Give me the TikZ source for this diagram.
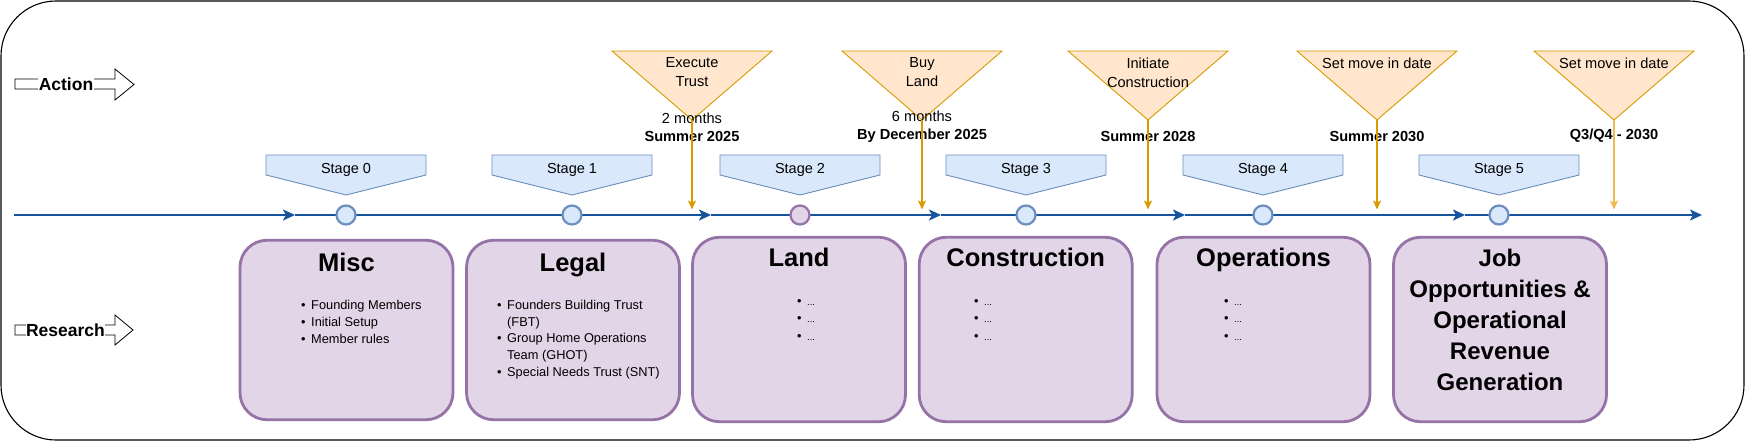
\documentclass[tikz,border=0pt]{standalone}
\usepackage{fontspec}
\setmainfont{Liberation Sans}
\usepackage{xcolor}
\usetikzlibrary{arrows.meta,positioning}

\definecolor{tagfill}{HTML}{DAE8FC}
\definecolor{tagline}{HTML}{6C8EBF}
\definecolor{actfill}{HTML}{FFE6CC}
\definecolor{actline}{HTML}{D79B00}
\definecolor{actlight}{HTML}{EDBB4F}
\definecolor{phasefill}{HTML}{E1D5E7}
\definecolor{phaseline}{HTML}{9673A6}
\definecolor{tlblue}{HTML}{16549E}

\newcommand{\bitem}[1]{\makebox[10pt][l]{\textbullet}#1}
\newcommand{\bcont}[1]{\hspace*{10pt}#1}
\newcommand{\emptyitem}{\bitem{{\fontsize{9.5}{10}\selectfont...}}}

\begin{document}
\begin{tikzpicture}[x=1pt,y=-1pt,
  every node/.style={inner sep=0pt},
  outerframe/.style={draw=black,line width=1.1pt,rounded corners=55pt},
  flowarrow/.style={draw=black,fill=white,line width=0.8pt},
  flowlbl/.style={font=\fontsize{17.5}{20}\selectfont\bfseries,fill=white,inner sep=0.5pt},
  tagshape/.style={draw=tagline,fill=tagfill,line width=0.9pt},
  tagtext/.style={font=\fontsize{14.5}{17}\selectfont},
  tline/.style={draw=tlblue,line width=2pt,-{Stealth[length=12pt,width=11pt,inset=3pt]}},
  stagedot/.style={circle,line width=2.2pt,minimum size=19pt},
  tri/.style={draw=actline,fill=actfill,line width=0.9pt},
  tritext/.style={font=\fontsize{14.6}{19}\selectfont,align=center},
  actarrow/.style={draw=actline,line width=1.3pt,-{Stealth[length=9pt,width=8pt,inset=2pt]}},
  datetext/.style={font=\fontsize{14.6}{18}\selectfont,align=center},
  phasebox/.style={draw=phaseline,fill=phasefill,line width=2.8pt,rounded corners=27pt,minimum width=213pt},
  phasetitle/.style={font=\fontsize{25.5}{30.8}\selectfont\bfseries,align=center,anchor=north},
  phaselist/.style={font=\fontsize{12.8}{16.8}\selectfont,align=left,anchor=west}]

  \useasboundingbox (0,0) rectangle (1745,441);
  % outer frame
  \draw[outerframe] (1,1) rectangle (1744,440);

  % Action / Research markers
  \draw[flowarrow] (15,79) -- (115,79) -- (115,69) -- (134,84.5) -- (115,100) -- (115,89) -- (15,89) -- cycle;
  \node[flowlbl] (action) at (66,84.5) {Action};
  \draw[flowarrow] (15,325) -- (115,325) -- (115,315) -- (133,330) -- (115,345) -- (115,335) -- (15,335) -- cycle;
  \node[flowlbl] (research) at (65.5,330) {Research};

  % Timeline
  \coordinate (tlStart) at (14,215);
  \coordinate (tl1) at (295,215);
  \coordinate (tl2) at (711,215);
  \coordinate (tl3) at (941,215);
  \coordinate (tl4) at (1185,215);
  \coordinate (tl5) at (1465,215);
  \coordinate (tl6) at (1702,215);
  \foreach \a/\b in {tlStart/tl1,tl1/tl2,tl2/tl3,tl3/tl4,tl4/tl5,tl5/tl6}
    \draw[tline] (\a) -- (\b);

  % Stage tags and points
  \foreach \x/\n/\d/\f in {346/0/tagline/tagfill,572/1/tagline/tagfill,800/2/phaseline/phasefill,
                           1026/3/tagline/tagfill,1263/4/tagline/tagfill,1499/5/tagline/tagfill}{
    \draw[tagshape] (\x-80,155) -- (\x+80,155) -- (\x+80,175) -- (\x,195) -- (\x-80,175) -- cycle;
    \node[tagtext] (stage\n) at (\x,170) {Stage \n};
    \node[stagedot,draw=\d,fill=\f] (pt\n) at (\x,215) {};
  }

  % Action triangles
  \foreach \x/\n in {692/exec,922/buy,1148/build,1377/movein,1614/moveinb}{
    \draw[tri] (\x-80,51) -- (\x+80,51) -- (\x,120) -- cycle;
    \coordinate (\n-tip) at (\x,120);
    \coordinate (\n-hit) at (\x,209.5);
  }
  \node[tritext] (execT) at (692,72.5) {Execute\\Trust};
  \node[tritext] (buyT) at (922,72.5) {Buy\\Land};
  \node[tritext] (buildT) at (1148,72.5) {Initiate\\Construction};
  \node[tritext] (moveinT) at (1377,63) {Set move in date};
  \node[tritext] (moveinbT) at (1614,63) {Set move in date};

  % Dates
  \node[datetext] (execD) at (692,127) {2 months\\\textbf{Summer 2025}};
  \node[datetext] (buyD) at (922,127) {6 months\\\textbf{By December 2025}};
  \node[datetext] (buildD) at (1148,136) {\textbf{Summer 2028}};
  \node[datetext] (moveinD) at (1377,136) {\textbf{Summer 2030}};
  \node[datetext] (moveinbD) at (1614,136) {\textbf{Q3/Q4 - 2030}};

  \foreach \n in {exec,buy,build,movein}
    \draw[actarrow] (\n-tip) -- (\n-hit);
  \draw[actarrow,draw=actlight] (moveinb-tip) -- (moveinb-hit);

  % Research boxes
  \node[phasebox,minimum height=179.5pt] (misc) at (346.5,330) {};
  \node[phasebox,minimum height=179.5pt] (legal) at (573,330) {};
  \node[phasebox,minimum height=184.5pt] (land) at (799,329.5) {};
  \node[phasebox,minimum height=184.5pt] (constr) at (1025.7,329.5) {};
  \node[phasebox,minimum height=184.5pt] (ops) at (1263.5,329.5) {};
  \node[phasebox,minimum height=184.5pt] (job) at (1500,329.5) {};

  \node[phasetitle,below=14pt of misc.north] (miscT) {Misc};
  \node[phasetitle,below=14pt of legal.north] (legalT) {Legal};
  \node[phasetitle,below=12pt of land.north] (landT) {Land};
  \node[phasetitle,below=12pt of constr.north] (constrT) {Construction};
  \node[phasetitle,below=12pt of ops.north] (opsT) {Operations};
  \node[phasetitle,font=\fontsize{24}{30.8}\selectfont\bfseries,below=13.5pt of job.north] (jobT)
    {Job\\Opportunities \&\\Operational\\Revenue\\Generation};

  \node[phaselist] (miscL) at (301,322) {\bitem{Founding Members}\\\bitem{Initial Setup}\\\bitem{Member rules}};
  \node[phaselist] (legalL) at (497,339.5) {\bitem{Founders Building Trust}\\\bcont{(FBT)}\\
    \bitem{Group Home Operations}\\\bcont{Team (GHOT)}\\\bitem{Special Needs Trust (SNT)}};
  \node[phaselist,font=\fontsize{12.8}{17.5}\selectfont] (landL) at (797,320) {\emptyitem\\\emptyitem\\\emptyitem};
  \node[phaselist,font=\fontsize{12.8}{17.5}\selectfont] (constrL) at (974,320) {\emptyitem\\\emptyitem\\\emptyitem};
  \node[phaselist,font=\fontsize{12.8}{17.5}\selectfont] (opsL) at (1224,320) {\emptyitem\\\emptyitem\\\emptyitem};
\end{tikzpicture}
\end{document}
